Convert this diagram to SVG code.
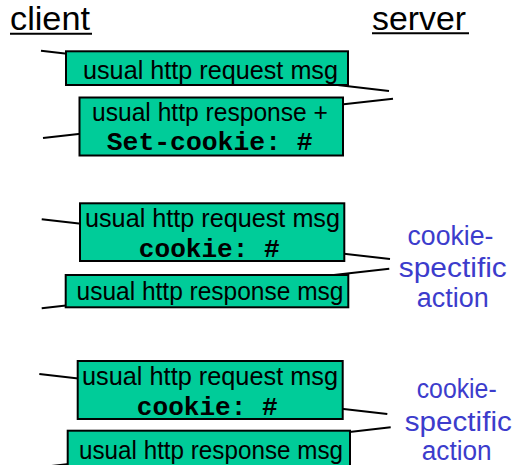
<svg xmlns="http://www.w3.org/2000/svg" width="518" height="465" viewBox="0 0 518 465">
  <style>
    .title { font-family: "Liberation Sans", Arial, sans-serif; font-size: 34px; fill: #000; }
    .msg { fill: #00cc99; stroke: #000; stroke-width: 2; }
    .txt { font-family: "Liberation Sans", Arial, sans-serif; font-size: 25px; fill: #000; text-anchor: middle; }
    .code { font-family: "Liberation Mono", "Courier New", monospace; font-size: 26px; font-weight: bold; fill: #000; text-anchor: middle; }
    .note { font-family: "Liberation Sans", Arial, sans-serif; font-size: 27px; fill: #3c3ccc; text-anchor: middle; }
    .wire { stroke: #000; stroke-width: 2; fill: none; }
    .rule { stroke: #000; stroke-width: 2; }
  </style>

  <!-- column headings -->
  <g id="client-label">
    <text class="title" x="10" y="30" textLength="80" lengthAdjust="spacingAndGlyphs">client</text>
    <line class="rule" x1="10" y1="33.7" x2="92" y2="33.7"/>
  </g>
  <g id="server-label">
    <text class="title" x="372" y="30" textLength="94" lengthAdjust="spacingAndGlyphs">server</text>
    <line class="rule" x1="372" y1="33.3" x2="469" y2="33.3"/>
  </g>

  <!-- message lines, drawn beneath the message boxes -->
  <g id="connectors">
    <line class="wire" x1="41" y1="50.7" x2="389" y2="91"/>
    <line class="wire" x1="393" y1="98.7" x2="43" y2="138"/>
    <line class="wire" x1="41.7" y1="219.3" x2="390" y2="259"/>
    <line class="wire" x1="389.3" y1="268.7" x2="41.7" y2="308.3"/>
    <line class="wire" x1="39.3" y1="374" x2="387.3" y2="414"/>
    <line class="wire" x1="390.7" y1="427.3" x2="40" y2="467.3"/>
  </g>

  <!-- exchange 1 -->
  <g id="request-1">
    <rect class="msg" x="66" y="51.3" width="282" height="33.7"/>
    <text class="txt" x="210.5" y="79.3" textLength="255" lengthAdjust="spacingAndGlyphs">usual http request msg</text>
  </g>
  <g id="response-1">
    <rect class="msg" x="79.5" y="97.5" width="263.5" height="58"/>
    <text class="txt" x="210" y="121" textLength="236" lengthAdjust="spacingAndGlyphs">usual http response +</text>
    <text class="code" x="209.7" y="150" textLength="206" lengthAdjust="spacingAndGlyphs">Set-cookie: #</text>
  </g>

  <!-- exchange 2 -->
  <g id="request-2">
    <rect class="msg" x="80" y="203.3" width="264.3" height="57.7"/>
    <text class="txt" x="212.5" y="226.7" textLength="255" lengthAdjust="spacingAndGlyphs">usual http request msg</text>
    <text class="code" x="209.3" y="256.7" textLength="141" lengthAdjust="spacingAndGlyphs">cookie: #</text>
  </g>
  <g id="response-2">
    <rect class="msg" x="65.7" y="275" width="282.6" height="32.3"/>
    <text class="txt" x="210" y="300" textLength="267" lengthAdjust="spacingAndGlyphs">usual http response msg</text>
  </g>
  <g id="action-2">
    <text class="note" x="450.5" y="245" textLength="86" lengthAdjust="spacingAndGlyphs">cookie-</text>
    <text class="note" x="452.8" y="276.5" textLength="108" lengthAdjust="spacingAndGlyphs">spectific</text>
    <text class="note" x="452.8" y="307" textLength="72" lengthAdjust="spacingAndGlyphs">action</text>
  </g>

  <!-- exchange 3 -->
  <g id="request-3">
    <rect class="msg" x="77.7" y="361" width="265" height="58"/>
    <text class="txt" x="210" y="385" textLength="256" lengthAdjust="spacingAndGlyphs">usual http request msg</text>
    <text class="code" x="207.3" y="415" textLength="141" lengthAdjust="spacingAndGlyphs">cookie: #</text>
  </g>
  <g id="response-3">
    <rect class="msg" x="67.7" y="430.7" width="282.3" height="40"/>
    <text class="txt" x="211" y="459.3" textLength="264" lengthAdjust="spacingAndGlyphs">usual http response msg</text>
  </g>
  <g id="action-3">
    <text class="note" x="456.7" y="398.3" textLength="80" lengthAdjust="spacingAndGlyphs">cookie-</text>
    <text class="note" x="458.3" y="430.5" textLength="107" lengthAdjust="spacingAndGlyphs">spectific</text>
    <text class="note" x="456.7" y="459.5" textLength="70" lengthAdjust="spacingAndGlyphs">action</text>
  </g>
</svg>
